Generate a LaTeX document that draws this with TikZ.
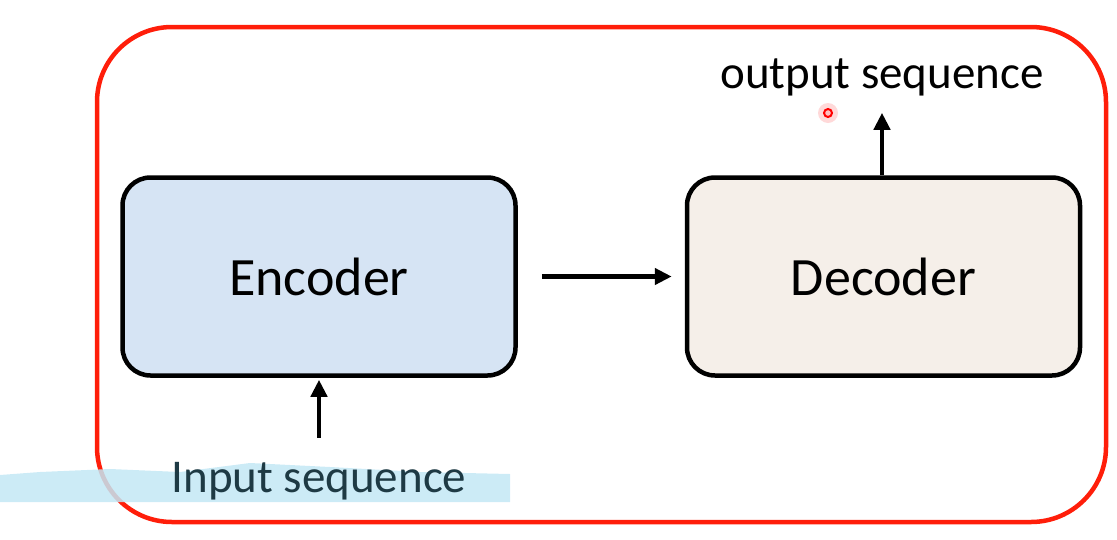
\documentclass[tikz,border=0pt]{standalone}
\usepackage{fontspec}
\setmainfont{Carlito}
\usepackage{tikz}
\usetikzlibrary{arrows.meta,positioning}
\definecolor{framered}{HTML}{FF1E0A}
\definecolor{encblue}{HTML}{D6E4F4}
\definecolor{decbeige}{HTML}{F5EFE9}
\definecolor{markblue}{HTML}{C3E7F5}
\definecolor{marktext}{HTML}{1E3A44}
\tikzset{
  seqbox/.style={draw=black,line width=4.5pt,rounded corners=28pt,minimum width=393pt,minimum height=198pt,font=\fontsize{54}{60}\selectfont},
  seqlabel/.style={inner sep=0pt,font=\fontsize{47}{52}\selectfont},
  seqarrow/.style={-{Triangle[length=17pt,width=16pt]},line width=4.5pt,black}
}

\begin{document}
\begin{tikzpicture}[x=1pt,y=-1pt]
\useasboundingbox (0,0) rectangle (1117,539);
\draw[framered,line width=4.5pt,rounded corners=75pt] (97,27) rectangle (1106,522);
% highlighter stroke under the input label
\fill[markblue,opacity=0.85] (0,475) -- (40,472) -- (110,469) -- (180,472) -- (250,463) -- (330,467) -- (420,472) -- (510,474) -- (510,502) -- (0,502) -- cycle;
\node[seqbox,fill=encblue] (enc) at (319,276.5) {Encoder};
\node[seqbox,fill=decbeige,right=167pt of enc] (dec) {Decoder};
\node[seqlabel,anchor=base,text=marktext] (inp) at (319,492) {Input sequence};
\node[seqlabel,anchor=base] (outp) at (882,88) {output sequence};
\draw[seqarrow,shorten <=24pt,shorten >=13pt] (enc) -- (dec);
\draw[seqarrow,shorten <=24pt,shorten >=2pt] (inp) -- (enc);
\draw[seqarrow,shorten >=17pt] (dec.north -| outp) -- (outp);
% pointer
\fill[red,opacity=0.15] (828,113) circle (10pt);
\draw[red,line width=2pt,fill=red!25] (828,113) circle (4pt);
\end{tikzpicture}
\end{document}
